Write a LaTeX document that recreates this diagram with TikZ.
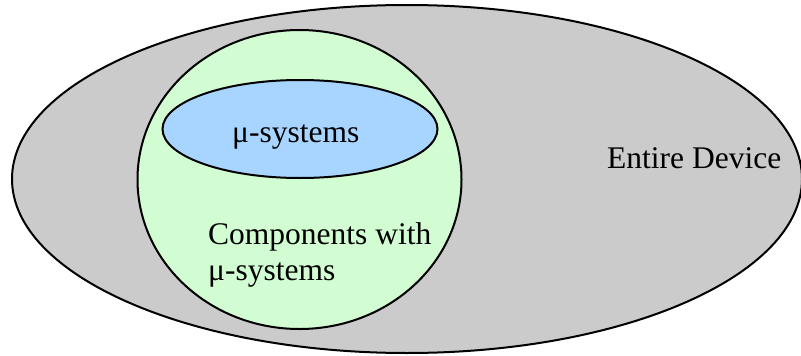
\documentclass[tikz,border=0pt]{standalone}
\usepackage{fontspec}
\setmainfont{Liberation Serif}
\definecolor{devicegray}{HTML}{CBCBCB}
\definecolor{compgreen}{HTML}{D2FCD2}
\definecolor{mublue}{HTML}{A8D5FF}
\tikzset{
  region/.style={draw=black, line width=2pt},
  label/.style={inner sep=0pt, font=\fontsize{31.5}{35.5}\selectfont, text=black}
}
\begin{document}
\begin{tikzpicture}[x=1pt, y=-1pt]
  \useasboundingbox (0,0) rectangle (801,356);
  % outer region: the whole device
  \draw[region, fill=devicegray] (407,179) ellipse [x radius=395, y radius=174];
  % components that contain mu-systems
  \draw[region, fill=compgreen] (299.5,179.5) ellipse [x radius=162, y radius=149.5];
  % the mu-systems themselves
  \draw[region, fill=mublue] (300,129) ellipse [x radius=137.5, y radius=49];
  \node[label, anchor=base west] (mu) at (232,142) {μ-systems};
  \node[label, anchor=base west] (device) at (607,168) {Entire Device};
  % the base of a two-line node sits on its last line
  \node[label, anchor=base west, align=left] (comp) at (208,280) {Components with\\μ-systems};
\end{tikzpicture}
\end{document}
